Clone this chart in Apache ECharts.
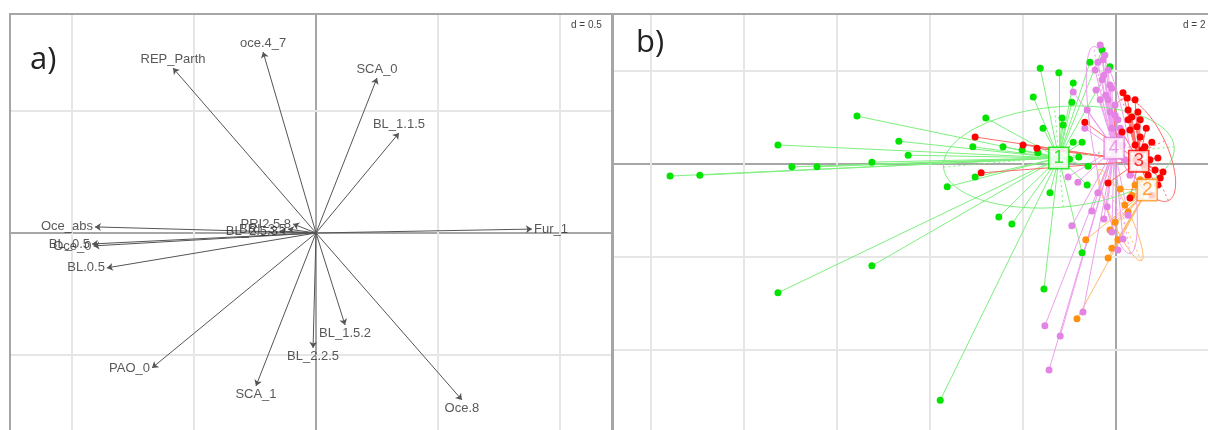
<!DOCTYPE html>
<html>
<head>
<meta charset="utf-8">
<script src="https://cdn.jsdelivr.net/npm/echarts@6/dist/echarts.min.js"></script>
<style>
  html, body { margin: 0; padding: 0; background: #fff; }
  #chart { width: 1208px; height: 430px; }
</style>
</head>
<body>
<div id="chart"></div>
<script>
// ---- panel a) : variable arrows ----
const varNames = ['REP_Parth', 'oce.4_7', 'SCA_0', 'BL_1.1.5', 'Fur_1', 'Oce.8', 'BL_1.5.2', 'BL_2.2.5',
  'SCA_1', 'PAO_0', 'BL.0.5', 'BL_0.5', 'Oce_0', 'Oce_abs', 'PRI2.5.8', 'BL_2.5.3', 'BRI_3.5'];
const varX = [-0.586, -0.217, 0.25, 0.34, 0.885, 0.598, 0.119, -0.012,
  -0.246, -0.672, -0.857, -0.918, -0.912, -0.906, -0.094, -0.148, -0.115];
const varY = [0.676, 0.742, 0.635, 0.41, 0.016, -0.684, -0.377, -0.471,
  -0.627, -0.553, -0.143, -0.045, -0.053, 0.025, 0.037, 0.008, 0.016];
const gridA_x = [-1, -0.5, 0.5, 1];
const gridA_y = [0.5, -0.5];

// ---- panel b) : classes ----
const group1 = [[-9.59, -0.26], [-8.95, -0.24], [-7.27, -2.77], [-7.27, 0.41], [-6.97, -0.06], [-6.43, -0.06],
  [-5.57, 1.03], [-5.25, -2.19], [-5.25, 0.04], [-4.67, 0.49], [-4.47, 0.19], [-3.78, -5.08], [-3.63, -0.49],
  [-3.08, 0.37], [-3.03, -0.28], [-2.80, 0.99], [-2.52, -1.14], [-2.43, 0.37], [-2.24, -1.29], [-2.02, 0.30],
  [-1.78, 1.44], [-1.68, 0.24], [-1.63, 2.06], [-1.57, 0.77], [-1.55, -2.69], [-1.42, -0.62], [-1.23, 1.96],
  [-1.16, 0.99], [-1.14, 0.84], [-0.95, 1.33], [-0.92, 1.74], [-0.92, 0.47], [-0.73, 0.47], [-0.73, -1.91],
  [-0.62, -0.45], [-0.56, 2.19], [-0.30, 2.45], [-0.13, 2.09], [-1.0, 0.1], [-0.8, 0.15], [-0.6, -0.05]];
const group2 = [[0.09, -0.54], [-0.65, -1.63], [-0.17, -2.02], [-0.84, -3.33], [-0.13, -1.42], [-0.02, -1.25],
  [0.19, -0.88], [0.34, -0.67], [0.41, -0.45], [0.26, -1.03], [0.04, -1.63], [0.52, -0.34], [0.62, -0.13],
  [-0.09, -1.81]];
const group3 = [[-3.03, 0.58], [-2.90, -0.19], [-2.00, 0.41], [-1.70, 0.34], [-0.67, 0.90], [-0.17, -0.41],
  [0.15, 1.53], [0.26, 1.16], [0.34, 1.01], [0.45, 0.80], [0.52, 0.58], [0.62, 0.37], [0.73, 0.09],
  [0.84, -0.13], [0.95, -0.30], [0.90, -0.45], [0.52, 0.95], [0.41, 1.38], [0.30, 0.73], [0.56, 0.30],
  [0.69, -0.24], [0.77, -0.67], [0.30, -0.73], [0.13, 0.69], [0.43, 0.09], [0.60, -0.02],
  [0.24, 1.42], [0.47, 1.12], [0.65, 0.77], [0.77, 0.47], [0.90, 0.13], [1.01, -0.17], [0.41, 0.41], [0.26, 0.95]];
const group4 = [[-0.34, 2.56], [-0.24, 2.34], [-0.39, 2.19], [-0.17, 2.02], [-0.30, 1.81], [-0.09, 1.63],
  [-0.22, 1.48], [-0.02, 1.27], [-0.13, 1.12], [0.04, 0.95], [-0.09, 0.77], [0.09, 0.62], [0.00, 0.47],
  [-0.17, 1.38], [-0.43, 1.59], [-0.26, 1.91], [-0.67, 0.77], [-0.92, 1.55], [-0.62, 1.16], [-1.03, -0.28],
  [-0.82, -0.39], [-0.52, -1.01], [-0.39, -0.62], [-0.19, -0.92], [-0.26, -1.18], [-0.95, -1.33],
  [0.15, -1.61], [0.04, -1.85], [-0.09, -1.46], [0.26, -1.10], [-0.71, -3.18], [-1.53, -3.48],
  [-1.20, -3.70], [-1.44, -4.43], [0.30, -0.24], [0.19, 0.09],
  [-0.28, 2.24], [-0.13, 1.70], [-0.34, 1.38], [-0.02, 1.05], [0.09, 0.77], [-0.45, 2.02], [0.13, 0.41]];
const groupNames = ['1', '2', '3', '4'];
const centroids = [[-1.23, 0.13], [0.67, -0.56], [0.49, 0.06], [-0.04, 0.34]];
// ellipse: centre x, centre y, half major, half minor, angle (deg)
const ellipses = [[-1.23, 0.15, 2.49, 1.08, 5], [0.09, -1.1, 1.08, 0.2, 115],
  [0.62, 0.3, 1.2, 0.47, 115], [-0.09, 0.3, 2.26, 0.39, 100]];
const gridB_x = [-10, -8, -6, -4, -2, 2];
const gridB_y = [2, -2, -4];

const groups = [group1, group2, group3, group4];
const pointColors = ['#00e400', '#ff9010', '#ff0000', '#e383e3'];
const lineColors = ['#7ef07e', '#ffba6a', '#ff6a6a', '#eea0ee'];
const drawOrder = [0, 1, 3, 2];

const A = { xMin: -1.254, xMax: 1.213, yMin: -0.8074, yMax: 0.8975 };
const B = { xMin: -10.817, xMax: 1.978, yMin: -5.72, yMax: 3.226 };

const chart = echarts.init(document.getElementById('chart'));

function hiddenAxis(gi, lim, dim) {
  return {
    type: 'value', gridIndex: gi,
    min: dim === 'x' ? lim.xMin : lim.yMin,
    max: dim === 'x' ? lim.xMax : lim.yMax,
    axisLine: { show: true, onZero: true, lineStyle: { color: '#a6a6a6', width: 2 } },
    axisTick: { show: false }, axisLabel: { show: false }, splitLine: { show: false }
  };
}

function gridLines(gi, xs, ys, lim) {
  const coords = [];
  xs.forEach(v => coords.push({ coords: [[v, lim.yMin], [v, lim.yMax]] }));
  ys.forEach(v => coords.push({ coords: [[lim.xMin, v], [lim.xMax, v]] }));
  return {
    type: 'lines', coordinateSystem: 'cartesian2d', xAxisIndex: gi, yAxisIndex: gi,
    silent: true, z: 1, data: coords,
    lineStyle: { color: '#e6e6e6', width: 2, opacity: 1 }
  };
}

function labelPos(x, y) {
  if (Math.abs(x) > Math.abs(y)) return x > 0 ? 'right' : 'left';
  return y > 0 ? 'top' : 'bottom';
}

const series = [
  gridLines(0, gridA_x, gridA_y, A),
  gridLines(1, gridB_x, gridB_y, B),
  {
    type: 'lines', coordinateSystem: 'cartesian2d', xAxisIndex: 0, yAxisIndex: 0, z: 3, silent: true,
    symbol: ['none', 'arrow'], symbolSize: [0, 6],
    lineStyle: { color: '#555', width: 1, opacity: 1 },
    data: varNames.map((n, i) => ({ coords: [[0, 0], [varX[i], varY[i]]] }))
  },
  {
    type: 'scatter', xAxisIndex: 0, yAxisIndex: 0, z: 4, symbolSize: 0, silent: true,
    data: varNames.map((n, i) => ({
      name: n, value: [varX[i], varY[i]],
      label: { position: labelPos(varX[i], varY[i]) }
    })),
    label: {
      show: true, formatter: '{b}', distance: 2, color: '#2e2e2e',
      fontFamily: 'Liberation Sans', fontSize: 13
    }
  }
];

// star lines
drawOrder.forEach(g => {
  series.push({
    type: 'lines', coordinateSystem: 'cartesian2d', xAxisIndex: 1, yAxisIndex: 1, z: 3, silent: true,
    lineStyle: { color: lineColors[g], width: 1, opacity: 1 },
    data: groups[g].map(p => ({ coords: [centroids[g], p] }))
  });
});

// ellipses
series.push({
  type: 'custom', coordinateSystem: 'cartesian2d', xAxisIndex: 1, yAxisIndex: 1, z: 4, silent: true,
  data: ellipses,
  renderItem: function (params, api) {
    const e = ellipses[params.dataIndex];
    const th = e[4] * Math.PI / 180;
    const pts = [];
    for (let k = 0; k <= 72; k++) {
      const t = k / 72 * 2 * Math.PI;
      const x = e[0] + e[2] * Math.cos(t) * Math.cos(th) - e[3] * Math.sin(t) * Math.sin(th);
      const y = e[1] + e[2] * Math.cos(t) * Math.sin(th) + e[3] * Math.sin(t) * Math.cos(th);
      pts.push(api.coord([x, y]));
    }
    const ax1 = [api.coord([e[0] - e[2] * Math.cos(th), e[1] - e[2] * Math.sin(th)]),
      api.coord([e[0] + e[2] * Math.cos(th), e[1] + e[2] * Math.sin(th)])];
    const ax2 = [api.coord([e[0] + e[3] * Math.sin(th), e[1] - e[3] * Math.cos(th)]),
      api.coord([e[0] - e[3] * Math.sin(th), e[1] + e[3] * Math.cos(th)])];
    const col = lineColors[params.dataIndex];
    return {
      type: 'group', children: [
        { type: 'polyline', shape: { points: pts }, style: { fill: null, stroke: col, lineWidth: 1 } },
        { type: 'line', shape: { x1: ax1[0][0], y1: ax1[0][1], x2: ax1[1][0], y2: ax1[1][1] },
          style: { stroke: col, lineWidth: 1, lineDash: [2, 3] } },
        { type: 'line', shape: { x1: ax2[0][0], y1: ax2[0][1], x2: ax2[1][0], y2: ax2[1][1] },
          style: { stroke: col, lineWidth: 1, lineDash: [2, 3] } }
      ]
    };
  }
});

// points
drawOrder.forEach(g => {
  series.push({
    type: 'scatter', xAxisIndex: 1, yAxisIndex: 1, z: 5, silent: true,
    symbolSize: 7, itemStyle: { color: pointColors[g], opacity: 1 },
    data: groups[g]
  });
});

// class labels
series.push({
  type: 'scatter', xAxisIndex: 1, yAxisIndex: 1, z: 10, symbolSize: 0, silent: true,
  data: groupNames.map((n, i) => ({
    name: n, value: centroids[i],
    label: { color: pointColors[i], borderColor: pointColors[i] }
  })),
  label: {
    show: true, position: 'inside', formatter: '{b}', fontFamily: 'Liberation Sans', fontSize: 19,
    backgroundColor: '#fff', borderWidth: 1.5, padding: [1, 4, 0, 4]
  }
});

const frame = { stroke: '#a6a6a6', lineWidth: 2 };

chart.setOption({
  animation: false,
  backgroundColor: '#fff',
  grid: [
    { left: 10, top: 14, width: 602, height: 416, show: false },
    { left: 613, top: 14, width: 595, height: 416, show: false }
  ],
  xAxis: [hiddenAxis(0, A, 'x'), hiddenAxis(1, B, 'x')],
  yAxis: [hiddenAxis(0, A, 'y'), hiddenAxis(1, B, 'y')],
  graphic: [
    { type: 'polyline', z: 20, silent: true, shape: { points: [[10, 440], [10, 14], [1210, 14]] }, style: frame },
    { type: 'line', z: 20, silent: true, shape: { x1: 612.5, y1: 14, x2: 612.5, y2: 440 },
      style: { stroke: '#a6a6a6', lineWidth: 3 } },
    { type: 'text', left: 30, top: 45, z: 20, style: { text: 'a)', font: '31px "Open Sans"', fill: '#222' } },
    { type: 'text', left: 636, top: 28, z: 20, style: { text: 'b)', font: '31px "Open Sans"', fill: '#222' } },
    { type: 'text', left: 571, top: 20, z: 20, style: { text: 'd = 0.5', font: '10px "Liberation Sans"', fill: '#444' } },
    { type: 'text', left: 1183, top: 20, z: 20, style: { text: 'd = 2', font: '10px "Liberation Sans"', fill: '#444' } }
  ],
  series: series
});
</script>
</body>
</html>
